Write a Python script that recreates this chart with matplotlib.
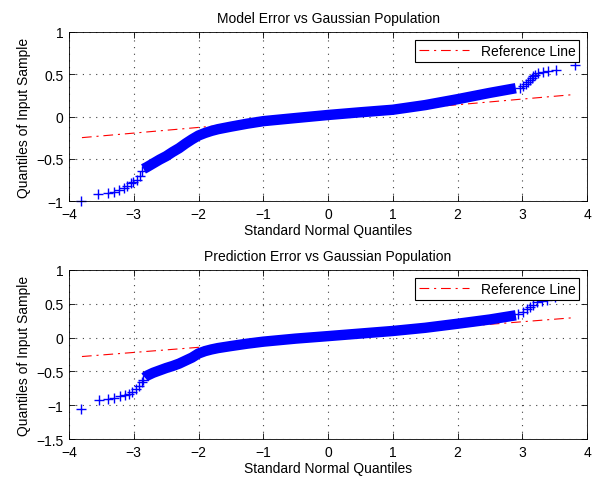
import numpy as np
import matplotlib.pyplot as plt

plt.rcParams['font.family'] = ['Liberation Sans', 'DejaVu Sans']
plt.rcParams['font.size'] = 10
plt.rcParams['lines.scale_dashes'] = False

# top panel: model error
model_left_x = [-3.82, -3.547, -3.402, -3.30, -3.223, -3.15, -3.10, -3.047, -3.007, -2.955, -2.903, -2.877]
model_left_y = [-0.996, -0.912, -0.905, -0.89, -0.87, -0.846, -0.82, -0.79, -0.77, -0.75, -0.70, -0.64]
model_body_x = [-2.85, -2.8, -2.7, -2.6, -2.5, -2.4, -2.3, -2.2, -2.1, -2.0, -1.9, -1.8, -1.7,
                -1.6, -1.5, -1.25, -1.0, -0.5, 0.0, 0.5, 1.0, 1.5, 2.0, 2.5, 2.9]
model_body_y = [-0.62, -0.60, -0.555, -0.51, -0.47, -0.42, -0.375, -0.32, -0.27, -0.225, -0.195,
                -0.17, -0.15, -0.135, -0.12, -0.085, -0.055, -0.018, 0.018, 0.05, 0.08, 0.135,
                0.205, 0.28, 0.335]
model_right_x = [2.965, 3.017, 3.058, 3.094, 3.12, 3.146, 3.171, 3.197, 3.248, 3.316, 3.403, 3.525, 3.815]
model_right_y = [0.34, 0.36, 0.385, 0.405, 0.43, 0.452, 0.476, 0.49, 0.511, 0.53, 0.538, 0.556, 0.612]
model_ref_x = [-3.8, 3.8]
model_ref_y = [-0.25, 0.26]

# bottom panel: prediction error
pred_left_x = [-3.815, -3.54, -3.40, -3.30, -3.21, -3.14, -3.07, -3.02, -2.97, -2.92, -2.875, -2.85]
pred_left_y = [-1.055, -0.918, -0.908, -0.89, -0.869, -0.855, -0.827, -0.80, -0.765, -0.72, -0.66, -0.63]
pred_body_x = [-2.83, -2.8, -2.7, -2.6, -2.5, -2.4, -2.3, -2.2, -2.1, -2.0, -1.9, -1.8, -1.7,
               -1.6, -1.5, -1.25, -1.0, -0.5, 0.0, 0.5, 1.0, 1.5, 2.0, 2.5, 2.9]
pred_body_y = [-0.59, -0.565, -0.52, -0.485, -0.45, -0.42, -0.385, -0.34, -0.295, -0.235, -0.2,
               -0.175, -0.155, -0.14, -0.125, -0.09, -0.06, -0.015, 0.022, 0.06, 0.098, 0.145,
               0.205, 0.268, 0.33]
pred_right_x = [2.94, 3.007, 3.069, 3.12, 3.171, 3.223, 3.30, 3.387, 3.5, 3.8]
pred_right_y = [0.349, 0.383, 0.423, 0.448, 0.482, 0.522, 0.546, 0.556, 0.6, 0.75]
pred_ref_x = [-3.8, 3.8]
pred_ref_y = [-0.28, 0.295]

x_ticks = [-4, -3, -2, -1, 0, 1, 2, 3, 4]
titles = ['Model Error vs Gaussian Population', 'Prediction Error vs Gaussian Population']
y_ticks = [[-1, -0.5, 0, 0.5, 1], [-1.5, -1, -0.5, 0, 0.5, 1]]
y_labels = [['\u22121', '\u22120.5', '0', '0.5', '1'],
            ['\u22121.5', '\u22121', '\u22120.5', '0', '0.5', '1']]

panels = [
    (model_left_x, model_left_y, model_body_x, model_body_y, model_right_x, model_right_y,
     model_ref_x, model_ref_y),
    (pred_left_x, pred_left_y, pred_body_x, pred_body_y, pred_right_x, pred_right_y,
     pred_ref_x, pred_ref_y),
]

fig = plt.figure(figsize=(6.01, 4.81), dpi=100)
positions = [[0.1148, 0.58, 0.862, 0.3514], [0.1148, 0.0852, 0.862, 0.3514]]

for i, (lx, ly, bx, by, rx, ry, refx, refy) in enumerate(panels):
    ax = fig.add_axes(positions[i])
    # reference line sits under the dense band of points
    ax.plot(refx, refy, color='r', lw=0.8, ls=(0, (7, 3.5, 1.5, 3.5)), label='Reference Line',
            zorder=1)
    ax.plot(bx, by, '-', color='b', lw=7.5, solid_capstyle='butt', solid_joinstyle='round',
            zorder=2)
    ax.plot(lx + rx, ly + ry, '+', color='b', ms=7, mew=1.0, ls='none', clip_on=False, zorder=2)

    ax.set_xlim(-4, 4)
    ax.set_ylim(y_ticks[i][0], y_ticks[i][-1])
    ax.set_xticks(x_ticks)
    ax.set_xticklabels(['\u2212%d' % -t if t < 0 else '%d' % t for t in x_ticks])
    ax.set_yticks(y_ticks[i])
    ax.set_yticklabels(y_labels[i])
    ax.tick_params(direction='in', top=True, right=True, length=4, width=0.6, pad=4, labelsize=10)
    ax.grid(True, color='0.25', lw=0.8, ls=(0, (0.8, 4)))
    ax.set_axisbelow(True)
    for s in ax.spines.values():
        s.set_linewidth(0.6)
    ax.set_title(titles[i], fontsize=10, pad=7)
    ax.set_xlabel('Standard Normal Quantiles', labelpad=2)
    ax.set_ylabel('Quantiles of Input Sample', labelpad=4)
    leg = ax.legend(loc='upper right', handlelength=3.6, handletextpad=0.8, borderpad=0.3,
                    borderaxespad=0.55, fancybox=False, framealpha=1)
    leg.get_frame().set_edgecolor('black')
    leg.get_frame().set_linewidth(0.8)

fig.savefig('out.png', dpi=100)
